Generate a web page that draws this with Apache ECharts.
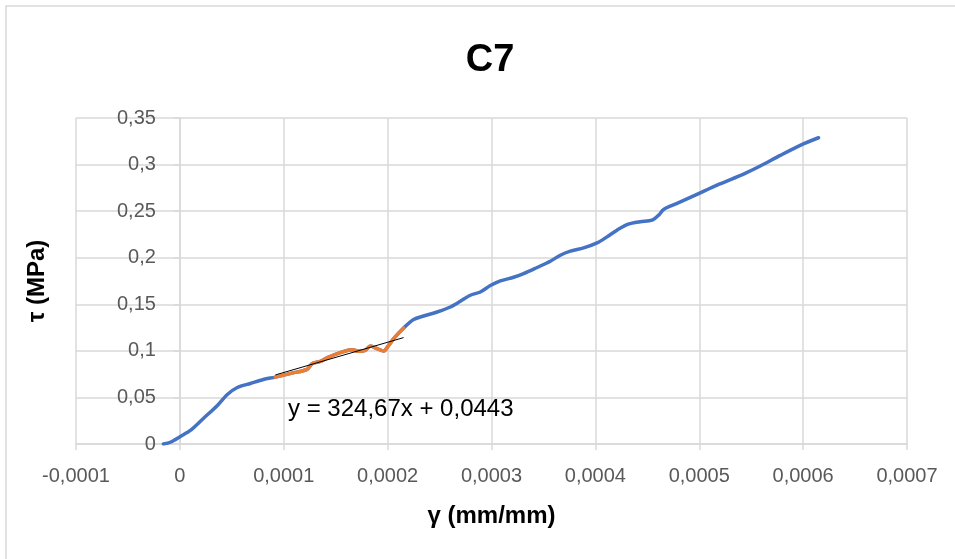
<!DOCTYPE html>
<html>
<head>
<meta charset="utf-8">
<script src="https://cdn.jsdelivr.net/npm/echarts@6/dist/echarts.min.js"></script>
<style>
  html, body { margin: 0; padding: 0; background: #ffffff; }
  #chart { width: 955px; height: 559px; }
</style>
</head>
<body>
<div id="chart"></div>
<script>
// Shear strain γ (mm/mm) and shear stress τ (MPa), specimen C7
const strainStart = [-0.0000159, -0.0000091, 0.0000005, 0.0000101, 0.0000226, 0.0000361, 0.0000457, 0.0000553, 0.0000679, 0.0000804];
const stressStart = [0.0, 0.0019, 0.0081, 0.0145, 0.0274, 0.0414, 0.0532, 0.0607, 0.0650, 0.0693];

// Portion used for the linear fit
const strainFit = [0.0000919, 0.0001080, 0.0001224, 0.0001272, 0.0001352, 0.0001432, 0.0001545, 0.0001657, 0.0001721, 0.0001785, 0.0001834, 0.0001898, 0.0001962, 0.0002010, 0.0002058, 0.0002154];
const stressFit = [0.0718, 0.0761, 0.0801, 0.0862, 0.0887, 0.0933, 0.0981, 0.1013, 0.0995, 0.1005, 0.1052, 0.1024, 0.0998, 0.1059, 0.1131, 0.1245];

const strainEnd = [0.0002250, 0.0002347, 0.0002476, 0.0002604, 0.0002700, 0.0002796, 0.0002892, 0.0002989, 0.0003085, 0.0003213, 0.0003309, 0.0003438, 0.0003566, 0.0003662, 0.0003759, 0.0003887, 0.0004016, 0.0004112, 0.0004208, 0.0004317, 0.0004432, 0.0004545, 0.0004609, 0.0004657, 0.0004786, 0.0004978, 0.0005171, 0.0005427, 0.0005587, 0.0005780, 0.0005972, 0.0006148];
const stressEnd = [0.1336, 0.1374, 0.1417, 0.1471, 0.1532, 0.1597, 0.1632, 0.1701, 0.1751, 0.1790, 0.1830, 0.1895, 0.1962, 0.2027, 0.2070, 0.2105, 0.2159, 0.2224, 0.2296, 0.2360, 0.2387, 0.2403, 0.2457, 0.2518, 0.2583, 0.2680, 0.2780, 0.2898, 0.2984, 0.3099, 0.3207, 0.3288];

// Linear trendline of the fitted portion
const trendSlope = 324.67;
const trendIntercept = 0.0443;
const trendLabel = 'y = 324,67x + 0,0443';

const xTicks = { min: -0.0001, max: 0.0007, step: 0.0001 };
const yTicks = { min: 0, max: 0.35, step: 0.05 };

const pairs = (xs, ys) => xs.map((x, i) => [x, ys[i]]);
const fullCurve = pairs(strainStart.concat(strainFit, strainEnd), stressStart.concat(stressFit, stressEnd));
const fitCurve = pairs(strainFit, stressFit);
const fitMin = Math.min(...strainFit), fitMax = Math.max(...strainFit);
const trendLine = [fitMin, fitMax].map(x => [x, trendSlope * x + trendIntercept]);

const FONT = "'Liberation Sans', Arial, sans-serif";
const GRID = '#d9d9d9';
const fmt = v => String(parseFloat(v.toFixed(6))).replace('.', ',');

// Plot box; the vertical axis crosses the horizontal one at γ = 0
const W = 955, H = 559;
const gridBox = { left: 76, right: 48, top: 118, bottom: 115 };
const plotWidth = W - gridBox.left - gridBox.right;
const yAxisShift = -plotWidth * (0 - xTicks.min) / (xTicks.max - xTicks.min);

const chart = echarts.init(document.getElementById('chart'), null, { renderer: 'canvas' });
chart.setOption({
  animation: false,
  backgroundColor: '#ffffff',
  title: {
    text: 'C7',
    left: 485,
    top: 37,
    textAlign: 'center',
    textStyle: { fontFamily: FONT, fontSize: 38, fontWeight: 'bold', color: '#000000' }
  },
  grid: Object.assign({ containLabel: false, outerBoundsMode: 'none' }, gridBox),
  xAxis: {
    type: 'value',
    min: xTicks.min, max: xTicks.max, interval: xTicks.step,
    name: 'γ (mm/mm)',
    nameLocation: 'middle',
    nameGap: 60,
    nameTextStyle: { fontFamily: FONT, fontSize: 24, fontWeight: 'bold', color: '#000000' },
    axisLine: { onZero: false, lineStyle: { color: GRID, width: 1.5 } },
    axisTick: { show: true, inside: false, length: 6, lineStyle: { color: GRID, width: 1.5 } },
    axisLabel: { margin: 22, formatter: fmt, fontFamily: FONT, fontSize: 20, color: '#595959' },
    splitLine: { show: true, lineStyle: { color: GRID, width: 1.5 } }
  },
  yAxis: {
    type: 'value',
    min: yTicks.min, max: yTicks.max, interval: yTicks.step,
    offset: yAxisShift,
    name: 'τ (MPa)',
    nameLocation: 'middle',
    nameGap: 131,
    nameRotate: 90,
    nameTextStyle: { fontFamily: FONT, fontSize: 24, fontWeight: 'bold', color: '#000000' },
    axisLine: { show: true, onZero: false, lineStyle: { color: GRID, width: 1.5 } },
    axisTick: { show: true, inside: false, length: 6, lineStyle: { color: GRID, width: 1.5 } },
    axisLabel: { margin: 24, formatter: fmt, fontFamily: FONT, fontSize: 20, color: '#595959' },
    splitLine: { show: true, lineStyle: { color: GRID, width: 1.5 } }
  },
  series: [
    {
      type: 'line',
      data: fullCurve,
      smooth: 0.3,
      showSymbol: false,
      lineStyle: { color: '#4472C4', width: 3.5, cap: 'round', join: 'round' },
      z: 2
    },
    {
      type: 'line',
      data: fitCurve,
      smooth: 0.3,
      showSymbol: false,
      lineStyle: { color: '#ED7D31', width: 3.5, cap: 'round', join: 'round' },
      z: 3
    },
    {
      type: 'line',
      data: trendLine,
      showSymbol: false,
      lineStyle: { color: '#000000', width: 1 },
      z: 4
    }
  ],
  graphic: [
    {
      type: 'rect',
      shape: { x: 6, y: 6, width: 1000, height: 1000 },
      style: { fill: 'none', stroke: GRID, lineWidth: 1.5 },
      silent: true
    },
    {
      type: 'text',
      left: 288,
      top: 397,
      style: { text: trendLabel, fontFamily: FONT, fontSize: 24, fill: '#000000' },
      z: 10
    }
  ]
});
</script>
</body>
</html>
